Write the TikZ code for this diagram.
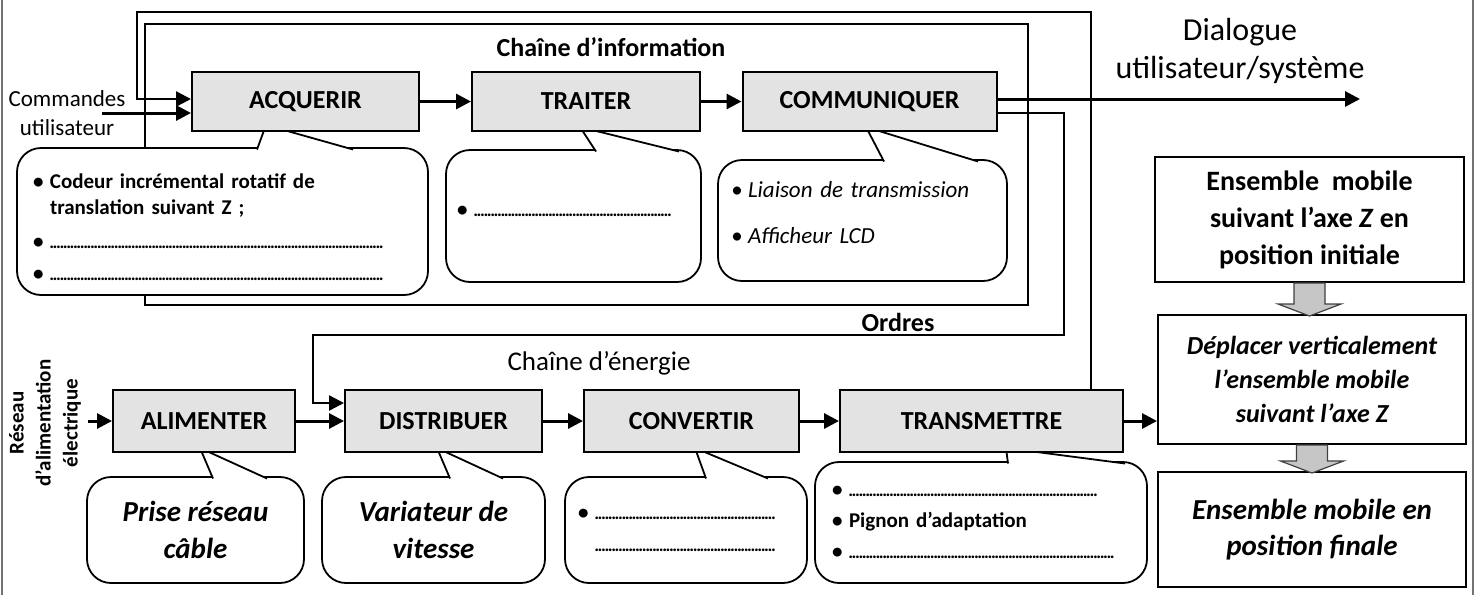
\documentclass[tikz,border=0pt]{standalone}
\usepackage{fontspec}
\setmainfont{Carlito}
\usetikzlibrary{arrows.meta}

\newcommand{\puce}{\makebox[8.5pt][l]{•}}
\newcommand{\pointilles}[1]{{\fontsize{9}{9}\selectfont\hbox to #1{\leaders\hbox to 1.7pt{\hss.\hss}\hfill}}}

\begin{document}
\begin{tikzpicture}[x=0.5pt, y=-0.5pt,
    >={Triangle[length=7.5pt, width=7.5pt]},
    fonction/.style={draw, line width=1pt, fill=gray!22, minimum height=29.5pt, inner sep=0pt, font=\fontsize{13}{15}\selectfont\bfseries},
    bulle/.style={draw, line width=0.9pt, fill=white, rounded corners=12pt, inner sep=0pt, align=left},
    pointe/.style={draw, line width=0.9pt, fill=white},
    fleche/.style={->, line width=1.5pt},
    lien/.style={->, line width=1.2pt},
    etat/.style={draw, line width=1pt, fill=white, align=center, inner sep=0pt},
    grosfleche/.style={draw=black!75, line width=0.6pt, fill=gray!45}
]
\useasboundingbox (0,0) rectangle (1476,595);

% bords de la page
\draw[black!55, line width=0.7pt] (2,0) -- (2,595);
\draw[black!55, line width=0.7pt] (1473,0) -- (1473,595);

% chaine d'information
\draw[line width=1pt] (145,24) rectangle (1028,305);
\node[font=\fontsize{13}{15}\selectfont\bfseries] (titreinfo) at (611,47) {Chaîne d’information};

\node[bulle, minimum width=205.5pt, minimum height=73.5pt, text width=189.5pt, font=\fontsize{10.5}{13}\selectfont\bfseries] (bulleacq) at (222.5,221.5)
    {\mbox{}\\ \puce Codeur incrémental rotatif de\\ \hspace*{8.5pt}translation suivant Z ;\\[4pt] \puce\pointilles{168pt}\\[3pt] \puce\pointilles{168pt}};
\draw[pointe] (257,149.5) -- (266,125) -- (353,149.5);
\node[bulle, minimum width=127.5pt, minimum height=66pt, text width=116.5pt, font=\fontsize{10.5}{13}\selectfont\bfseries] (bulletrait) at (573.5,216)
    {\puce\pointilles{99pt}\\[-8pt]\mbox{}};
\draw[pointe] (596,151.5) -- (580,127) -- (679,151.5);
\node[bulle, minimum width=144.5pt, minimum height=60.5pt, text width=131.5pt, font=\fontsize{11.5}{14}\selectfont\itshape] (bullecomm) at (862.5,220.5)
    {\puce Liaison de transmission\\[9pt] \puce Afficheur LCD\\[-6pt]\mbox{}};
\draw[pointe] (884,161.5) -- (866,127) -- (978,161.5);

\foreach \nom/\x/\w/\txt in {acquerir/305.5/113.5pt/ACQUERIR, traiter/586/114pt/TRAITER, communiquer/869.5/127pt/COMMUNIQUER}
    \node[fonction, minimum width=\w] (\nom) at (\x,101.5) {\txt};

\draw[fleche] (acquerir) -- (traiter);
\draw[fleche] (traiter) -- (communiquer);

\coordinate (cmd) at (102,113);
\node[font=\fontsize{11.5}{14.5}\selectfont, align=center] (commandes) at (67,113.5) {Commandes\\utilisateur};
\draw[fleche] (cmd) -- (cmd -| acquerir.west);

\coordinate (dialogue) at (1360,99);
\node[font=\fontsize{16}{19}\selectfont, align=center] (txtdialogue) at (1240,51) {Dialogue\\utilisateur/système};
\draw[fleche] (communiquer.east |- dialogue) -- (dialogue);

% chaine d'energie
\node[font=\fontsize{13.5}{15}\selectfont] (titreenergie) at (599,363) {Chaîne d’énergie};

\node[bulle, minimum width=108.5pt, minimum height=53pt, align=center, font=\fontsize{14.5}{18.5}\selectfont\bfseries\itshape] (bullealim) at (195.5,530)
    {Prise réseau\\câble};
\draw[pointe] (213,478.5) -- (200,448) -- (267,478.5);
\node[bulle, minimum width=111.5pt, minimum height=53pt, align=center, font=\fontsize{14.5}{18.5}\selectfont\bfseries\itshape] (bulledist) at (433.5,530)
    {Variateur de\\vitesse};
\draw[pointe] (450,478.5) -- (437,448) -- (503,478.5);
\node[bulle, minimum width=121pt, minimum height=53pt, text width=108pt, font=\fontsize{10.5}{13}\selectfont\bfseries] (bulleconv) at (686,530)
    {\puce\pointilles{91.5pt}\\[3pt] \hspace*{8.5pt}\pointilles{91.5pt}};
\draw[pointe] (706,478.5) -- (695,448) -- (768,478.5);
\node[bulle, minimum width=166pt, minimum height=60.5pt, text width=149pt, font=\fontsize{10.5}{15.5}\selectfont\bfseries] (bulletrans) at (981,522.5)
    {\puce\pointilles{124.5pt}\\ \puce Pignon d’adaptation\\ \puce\pointilles{133.5pt}};
\draw[pointe] (1008,463.5) -- (1006,448) -- (1125,463.5);

\foreach \nom/\x/\w/\txt in {alimenter/204/91pt/ALIMENTER, distribuer/443.5/98.5pt/DISTRIBUER, convertir/691.5/107.5pt/CONVERTIR, transmettre/981.5/141.5pt/TRANSMETTRE}
    \node[fonction, minimum width=\w, minimum height=31pt] (\nom) at (\x,421) {\txt};

\draw[fleche] (alimenter) -- (distribuer);
\draw[fleche] (distribuer) -- (convertir);
\draw[fleche] (convertir) -- (transmettre);

\coordinate (reseau) at (88,421);
\node[rotate=90, align=center, font=\fontsize{10.5}{13.5}\selectfont\bfseries] (txtreseau) at (45,423) {Réseau\\d’alimentation\\électrique};
\draw[fleche] (reseau) -- (alimenter);

% ordres et retour
\coordinate (ordres1) at (1064,335);
\coordinate (ordres2) at (313,403);
\draw[lien] ([yshift=-5.75pt]communiquer.east) -| (ordres1) -| (ordres2) -- (ordres2 -| distribuer.west);
\node[font=\fontsize{13}{15}\selectfont\bfseries] (txtordres) at (898,322) {Ordres};

\coordinate (hautd) at (1091,12);
\coordinate (hautg) at (137,12);
\draw[lien] (transmettre.north -| hautd) -- (hautd) -- (hautg) |- ([yshift=1.25pt]acquerir.west);

% etats de la matiere d'oeuvre
\node[etat, minimum width=154.5pt, minimum height=62.5pt, font=\fontsize{14}{18.5}\selectfont\bfseries] (initiale) at (1309.5,219.5)
    {Ensemble\ \ mobile\\suivant l’axe \textit{Z} en\\position initiale};
\node[etat, minimum width=154pt, minimum height=64.5pt, font=\fontsize{13}{17}\selectfont\bfseries\itshape] (deplacer) at (1312,379.5)
    {Déplacer verticalement\\l’ensemble mobile\\suivant l’axe Z};
\node[etat, minimum width=154pt, minimum height=57.5pt, font=\fontsize{14.5}{18}\selectfont\bfseries\itshape] (finale) at (1312,529.5)
    {Ensemble mobile en\\position finale};

\draw[fleche] (transmettre.east) -- (transmettre.east -| deplacer.west);

\foreach \haut/\lg in {initiale/21, deplacer/16}
    \draw[grosfleche] ([xshift=-7.75pt]\haut.south) -- ++(0,\lg) -- ++(-16,0) -- ++(31.5,12) -- ++(31.5,-12) -- ++(-16,0) -- ++(0,-\lg) -- cycle;

\end{tikzpicture}
\end{document}
